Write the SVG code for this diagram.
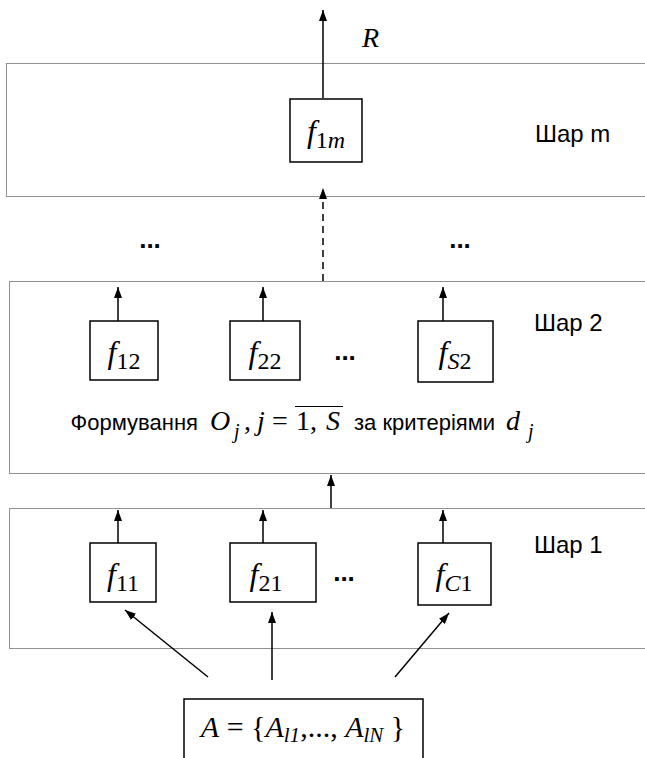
<svg xmlns="http://www.w3.org/2000/svg" width="645" height="758" viewBox="0 0 645 758">
<defs>
<marker id="ah" viewBox="0 0 11 8" refX="11" refY="4" markerWidth="11" markerHeight="8" orient="auto" markerUnits="userSpaceOnUse">
<path d="M0,0 L11,4 L0,8 z" fill="#000"/>
</marker>
<style>
.layer{fill:none;stroke:#222;stroke-width:1;stroke-dasharray:1 1}
.box{fill:#fff;stroke:#000;stroke-width:1.5}
.con{stroke:#000;stroke-width:1.5;fill:none;marker-end:url(#ah)}
.dash{stroke-dasharray:7,5}
.tm{font-family:"Liberation Serif",serif;fill:#000}
.it{font-style:italic}
.ar{font-family:"Liberation Sans",Arial,sans-serif;fill:#000}
.lbl{font-size:24px}
.dots{font-family:"Liberation Sans",Arial,sans-serif;font-weight:bold;font-size:26px;text-anchor:middle}
</style>
</defs>
<rect width="645" height="758" fill="#fff"/>

<g id="layer-m">
<rect class="layer" x="6.5" y="63.5" width="660" height="133"/>
<text class="ar lbl" x="535" y="142">Шар m</text>
</g>
<g id="layer-2">
<rect class="layer" x="9.5" y="281.5" width="660" height="192"/>
<text class="ar lbl" x="534" y="331">Шар 2</text>
<text class="ar" font-size="22" x="198" y="430" text-anchor="end">Формування</text>
<text class="tm" font-size="28" y="430"><tspan class="it" x="210">O</tspan><tspan class="it" font-size="20" x="234" dy="8">j</tspan><tspan x="244" dy="-8">,</tspan><tspan class="it" x="257">j</tspan><tspan x="272">=</tspan><tspan x="296">1,</tspan><tspan class="it" x="326">S</tspan></text>
<line x1="295" y1="406.5" x2="343" y2="406.5" stroke="#000" stroke-width="1"/>
<text class="ar" font-size="22" x="354" y="430">за критеріями</text>
<text class="tm" font-size="28" y="430"><tspan class="it" x="506">d</tspan><tspan class="it" font-size="20" x="528" dy="8">j</tspan></text>
</g>
<g id="layer-1">
<rect class="layer" x="9.5" y="508.5" width="660" height="140"/>
<text class="ar lbl" x="534" y="553">Шар 1</text>
</g>

<g id="f1m">
<rect class="box" x="290" y="99" width="72" height="63"/>
<text class="tm" x="326" y="142" text-anchor="middle"><tspan class="it" font-size="32">f</tspan><tspan font-size="24" dy="6">1</tspan><tspan class="it" font-size="24">m</tspan></text>
</g>
<g id="f12">
<rect class="box" x="90" y="321" width="68" height="59"/>
<text class="tm" x="124" y="363" text-anchor="middle"><tspan class="it" font-size="32">f</tspan><tspan font-size="24" dy="6">12</tspan></text>
</g>
<g id="f22">
<rect class="box" x="230" y="321" width="70" height="59"/>
<text class="tm" x="265" y="363" text-anchor="middle"><tspan class="it" font-size="32">f</tspan><tspan font-size="24" dy="6">22</tspan></text>
</g>
<g id="fS2">
<rect class="box" x="418" y="321" width="75" height="61"/>
<text class="tm" x="455" y="363" text-anchor="middle"><tspan class="it" font-size="32">f</tspan><tspan class="it" font-size="24" dy="6">S</tspan><tspan font-size="24">2</tspan></text>
</g>
<g id="f11">
<rect class="box" x="90" y="543" width="66" height="59"/>
<text class="tm" x="123" y="585" text-anchor="middle"><tspan class="it" font-size="32">f</tspan><tspan font-size="24" dy="6">11</tspan></text>
</g>
<g id="f21">
<rect class="box" x="230" y="543" width="86" height="59"/>
<text class="tm" x="266" y="585" text-anchor="middle"><tspan class="it" font-size="32">f</tspan><tspan font-size="24" dy="6">21</tspan></text>
</g>
<g id="fC1">
<rect class="box" x="418" y="543" width="73" height="62"/>
<text class="tm" x="454" y="585" text-anchor="middle"><tspan class="it" font-size="32">f</tspan><tspan class="it" font-size="24" dy="6">C</tspan><tspan font-size="24">1</tspan></text>
</g>
<g id="A">
<rect class="box" x="184" y="699" width="239" height="80"/>
<text class="tm" x="303" y="737" text-anchor="middle" font-size="30"><tspan class="it">A</tspan> = {<tspan class="it">A</tspan><tspan class="it" font-size="21" dy="5">l1</tspan><tspan dy="-5">,..., </tspan><tspan class="it">A</tspan><tspan class="it" font-size="21" dy="5">lN</tspan><tspan dy="-5"> }</tspan></text>
</g>

<g id="labels">
<text class="tm it" font-size="28" x="362" y="47">R</text>
<text class="dots" x="150" y="248">...</text>
<text class="dots" x="460" y="248">...</text>
<text class="dots" x="345" y="360">...</text>
<text class="dots" x="344" y="581">...</text>
</g>

<g id="connectors">
<line class="con" x1="323" y1="98" x2="323" y2="10"/>
<line class="con dash" x1="323" y1="281" x2="323" y2="188"/>
<line class="con" x1="118" y1="321" x2="118" y2="287"/>
<line class="con" x1="263" y1="321" x2="263" y2="287"/>
<line class="con" x1="443" y1="321" x2="443" y2="287"/>
<line class="con" x1="331" y1="508" x2="331" y2="475"/>
<line class="con" x1="118" y1="543" x2="118" y2="510"/>
<line class="con" x1="263" y1="543" x2="263" y2="510"/>
<line class="con" x1="443" y1="543" x2="443" y2="510"/>
<line class="con" x1="208" y1="677" x2="125" y2="610"/>
<line class="con" x1="272" y1="680" x2="272" y2="612"/>
<line class="con" x1="395" y1="677" x2="449" y2="613"/>
</g>
</svg>
